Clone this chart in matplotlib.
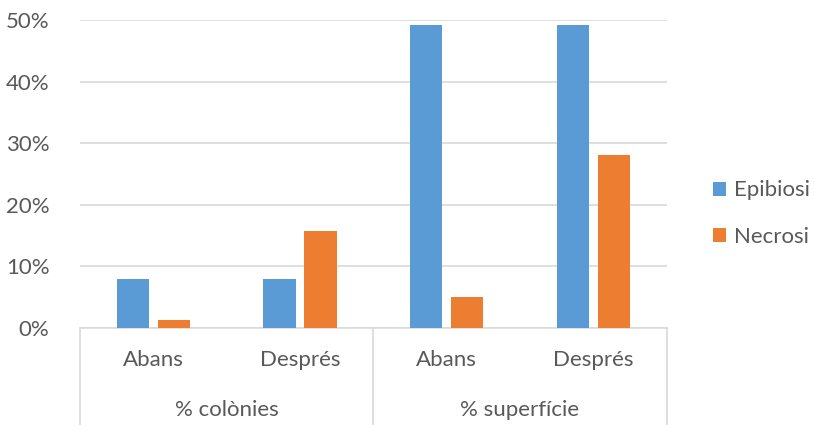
import matplotlib
matplotlib.use("Agg")
import matplotlib.pyplot as plt
from matplotlib.ticker import FuncFormatter
import numpy as np

plt.rcParams['font.family'] = ['Lato', 'DejaVu Sans']

groups = ["% colònies", "% superfície"]
periods = ["Abans", "Després", "Abans", "Després"]
series_names = ["Epibiosi", "Necrosi"]
epibiosi = [7.9, 7.9, 49.2, 49.2]
necrosi = [1.2, 15.7, 5.0, 28.0]

blue = "#5B9BD5"
orange = "#ED7D31"
text_col = "#595959"
grid_col = "#D9D9D9"
fs = 16

fig = plt.figure(figsize=(8.14, 4.25), dpi=100)
ax = fig.add_axes([0.0983, 0.229, 0.7207, 0.724])

x = np.arange(len(periods))
w = 0.222
off = 0.14
ax.bar(x - off, epibiosi, width=w, color=blue, label=series_names[0], zorder=3)
ax.bar(x + off, necrosi, width=w, color=orange, label=series_names[1], zorder=3)

ax.set_xlim(-0.5, 3.5)
ax.set_ylim(0, 50)
ax.set_yticks(np.arange(0, 51, 10))
ax.yaxis.set_major_formatter(FuncFormatter(lambda v, p: f"{int(v)}%"))
ax.tick_params(axis='y', length=0, pad=22, labelsize=fs, labelcolor=text_col)
ax.set_xticks([])
ax.grid(axis='y', color=grid_col, linewidth=1.2, zorder=0)
for s in ax.spines.values():
    s.set_visible(False)

# category axis: baseline, separators and two-level labels
bottom = -0.316
ax.plot([0, 1], [0, 0], transform=ax.transAxes, color=grid_col, lw=1.2, clip_on=False)
for xs in [0, 0.5, 1.0]:
    ax.plot([xs, xs], [0, bottom], transform=ax.transAxes, color=grid_col, lw=1.2, clip_on=False)

trans = ax.get_xaxis_transform()
for xi, lab in zip(x, periods):
    ax.text(xi, -0.105, lab, transform=trans, ha='center', va='center',
            fontsize=fs, color=text_col)
for gi, g in enumerate(groups):
    ax.text(0.5 + 2 * gi, -0.267, g, transform=trans, ha='center', va='center',
            fontsize=fs, color=text_col)

leg = ax.legend(loc='center left', bbox_to_anchor=(1.045, 0.37), frameon=False,
                fontsize=fs, handlelength=0.6, handleheight=0.6,
                handletextpad=0.35, labelspacing=1.2)
for t in leg.get_texts():
    t.set_color(text_col)

fig.savefig("out.png", dpi=100)
